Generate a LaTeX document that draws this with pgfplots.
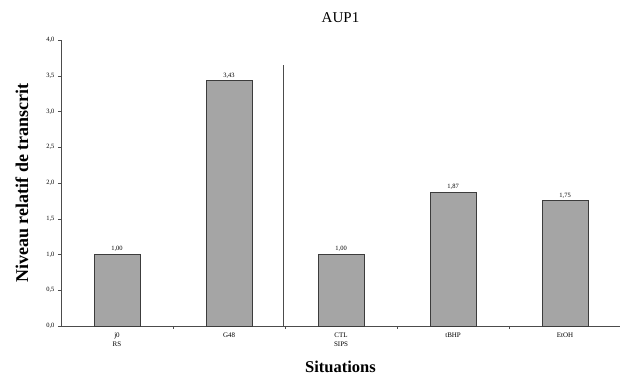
\documentclass[border=0pt]{standalone}
\usepackage{pgfplots}
\pgfplotsset{compat=1.18}
\usepackage{fontspec}
\setmainfont{Liberation Serif}
\definecolor{barfill}{RGB}{165,165,165}
\definecolor{bardraw}{RGB}{60,60,60}
\begin{document}
\begin{tikzpicture}[x=1pt,y=1pt]
\path[use as bounding box] (-61,-57) rectangle (559,326);
\begin{axis}[
  at={(0,0)}, anchor=south west,
  scale only axis, width=559pt, height=286pt,
  xmin=-0.5, xmax=4.49, ymin=0, ymax=4,
  axis x line=bottom, axis y line=left,
  axis line style={-, black!70, line width=0.6pt},
  ytick={0,0.5,...,4},
  yticklabel style={font=\fontsize{6.5}{7}\selectfont, /pgf/number format/.cd, fixed, fixed zerofill, precision=1, use comma},
  /pgf/number format/assume math mode=true,
  xtick={0,1,2,3,4},
  xticklabels={{j0\\RS},G48,{CTL\\SIPS},tBHP,EtOH},
  xticklabel style={font=\fontsize{7}{9}\selectfont, align=center},
  major x tick style={draw=none},
  minor xtick={0.5,1.5,2.5,3.5},
  minor x tick style={black!70},
  tick align=outside,
  major tick length=3pt, minor tick length=2.5pt,
  y tick style={black!70},
  title={AUP1},
  title style={font=\fontsize{15}{17}\selectfont, at={(0.5,1)}, yshift=8pt},
  ylabel={\textbf{Niveau relatif de transcrit}},
  ylabel style={font=\fontsize{18}{20}\selectfont, at={(axis description cs:-0.07,0.5)}, anchor=center},
  xlabel={\textbf{Situations}},
  xlabel style={font=\fontsize{16.5}{18}\selectfont, yshift=-8pt},
  ybar, bar width=46pt,
  nodes near coords,
  point meta=explicit symbolic,
  every node near coord/.append style={font=\fontsize{6.5}{7.5}\selectfont, black, yshift=-1pt},
  clip=false,
]
\addplot[fill=barfill, draw=bardraw, line width=0.8pt] table[meta=lab] {
x y lab
0 1.00 1,00
1 3.43 3,43
2 1.00 1,00
3 1.87 1,87
4 1.75 1,75
};
\addplot[sharp plot, black!70, line width=0.6pt, nodes near coords={}, forget plot] coordinates {(1.48,0) (1.48,3.65)};
\end{axis}
\end{tikzpicture}
\end{document}
